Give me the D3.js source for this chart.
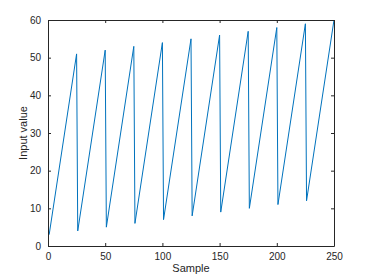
<!DOCTYPE html>
<html>
<head>
<meta charset="utf-8">
<script src="https://cdn.jsdelivr.net/npm/d3@7"></script>
<style>
  body { margin: 0; background: #fff; }
  svg { font-family: "Liberation Sans", Arial, sans-serif; }
</style>
</head>
<body>
<div id="chart"></div>
<script>
// vertices of the sawtooth (sample, value)
const samples = [1, 25, 26, 50, 51, 75, 76, 100, 101, 125, 126, 150, 151, 175, 176, 200, 201, 225, 226, 250];
const values  = [3, 51, 4, 52, 5, 53, 6, 54, 7, 55, 8, 56, 9, 57, 10, 58, 11, 59, 12, 60];
const xTicks = [0, 50, 100, 150, 200, 250];
const yTicks = [0, 10, 20, 30, 40, 50, 60];

const width = 370, height = 277;
const margin = { top: 20, right: 36, bottom: 31, left: 48 };
const axisColor = "#262626";

const svg = d3.select("#chart").append("svg")
  .attr("width", width)
  .attr("height", height);

const x = d3.scaleLinear().domain([0, 250]).range([margin.left, width - margin.right]);
const y = d3.scaleLinear().domain([0, 60]).range([height - margin.bottom, margin.top]);

const data = samples.map((s, i) => ({ s, v: values[i] }));

// series
svg.append("path")
  .datum(data)
  .attr("fill", "none")
  .attr("stroke", "#0072BD")
  .attr("stroke-width", 1)
  .attr("d", d3.line().x(d => x(d.s)).y(d => y(d.v)));

// axes, ticks inside like matlab
const styleAxis = g => {
  g.selectAll("path.domain").attr("stroke", axisColor);
  g.selectAll(".tick line").attr("stroke", axisColor);
  g.selectAll(".tick text").attr("fill", axisColor).attr("font-size", 10);
};

svg.append("g")
  .attr("transform", `translate(0,${height - margin.bottom})`)
  .call(d3.axisBottom(x).tickValues(xTicks).tickSizeInner(-3).tickSizeOuter(0).tickPadding(7))
  .call(styleAxis);

svg.append("g")
  .attr("transform", `translate(0,${margin.top})`)
  .call(d3.axisTop(x).tickValues(xTicks).tickSizeInner(-3).tickSizeOuter(0).tickFormat(""))
  .call(styleAxis);

svg.append("g")
  .attr("transform", `translate(${margin.left},0)`)
  .call(d3.axisLeft(y).tickValues(yTicks).tickSizeInner(-3).tickSizeOuter(0).tickPadding(7))
  .call(styleAxis);

svg.append("g")
  .attr("transform", `translate(${width - margin.right},0)`)
  .call(d3.axisRight(y).tickValues(yTicks).tickSizeInner(-3).tickSizeOuter(0).tickFormat(""))
  .call(styleAxis);

// labels
svg.append("text")
  .attr("x", (margin.left + width - margin.right) / 2)
  .attr("y", height - 5)
  .attr("text-anchor", "middle")
  .attr("font-size", 11)
  .attr("fill", axisColor)
  .text("Sample");

svg.append("text")
  .attr("transform", `translate(27,${(margin.top + height - margin.bottom) / 2}) rotate(-90)`)
  .attr("text-anchor", "middle")
  .attr("font-size", 11)
  .attr("fill", axisColor)
  .text("Input value");
</script>
</body>
</html>
